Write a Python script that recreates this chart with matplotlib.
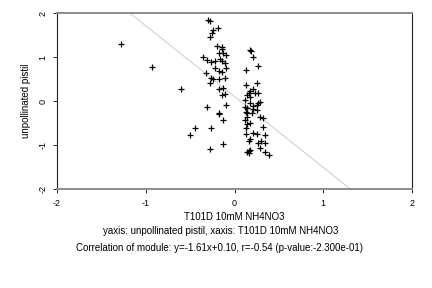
import matplotlib
matplotlib.use("Agg")
import matplotlib.pyplot as plt
import numpy as np

plt.rcParams["font.family"] = ["Liberation Sans", "DejaVu Sans"]

# points (data units)
x_left = [-0.30, -0.28, -0.19, -0.24, -0.25, -0.28, -1.28, -0.20, -0.14, -0.14,
          -0.17, -0.13, -0.10, -0.36, -0.31, -0.27, -0.22, -0.16, -0.14, -0.11,
          -0.93, -0.10, -0.22, -0.18, -0.14, -0.32, -0.27, -0.24, -0.17, -0.11,
          -0.28, -0.18, -0.13, -0.60, -0.14, -0.11, -0.31, -0.10, -0.17, -0.18,
          -0.13, -0.44, -0.26, -0.50, -0.13, -0.28]
y_left = [1.84, 1.82, 1.67, 1.61, 1.55, 1.46, 1.30, 1.26, 1.22, 1.18,
          1.10, 1.08, 1.05, 1.01, 0.93, 0.89, 0.91, 0.95, 0.91, 0.87,
          0.78, 0.74, 0.74, 0.69, 0.65, 0.63, 0.52, 0.50, 0.50, 0.52,
          0.40, 0.27, 0.29, 0.27, 0.14, 0.17, -0.14, -0.09, -0.27, -0.30,
          -0.43, -0.62, -0.62, -0.78, -0.98, -1.08]
x_right = [0.17, 0.19, 0.21, 0.26, 0.13, 0.25, 0.13, 0.21, 0.17, 0.23,
           0.16, 0.14, 0.26, 0.18, 0.12, 0.17, 0.29, 0.27, 0.25, 0.21,
           0.12, 0.14, 0.21, 0.25, 0.13, 0.14, 0.20, 0.14, 0.29, 0.32,
           0.12, 0.17, 0.14, 0.32, 0.13, 0.21, 0.25, 0.13, 0.34, 0.17,
           0.16, 0.30, 0.27, 0.34, 0.29, 0.16, 0.17, 0.14, 0.16, 0.34, 0.39]
y_right = [1.16, 1.14, 1.01, 0.80, 0.70, 0.42, 0.36, 0.27, 0.23, 0.18,
           0.18, 0.14, 0.18, 0.10, 0.02, -0.05, -0.02, -0.05, -0.09, -0.11,
           -0.13, -0.17, -0.19, -0.20, -0.24, -0.28, -0.28, -0.36, -0.36, -0.39,
           -0.43, -0.49, -0.52, -0.60, -0.62, -0.73, -0.75, -0.76, -0.77, -0.87,
           -0.90, -0.92, -0.96, -0.96, -1.07, -1.13, -1.11, -1.17, -1.19, -1.15, -1.23]

slope = -1.61
intercept = 0.10
ticks = [-2, -1, 0, 1, 2]
x_name = "T101D 10mM NH4NO3"
y_name = "unpollinated pistil"

fig = plt.figure(figsize=(4.32, 2.88), dpi=100)
ax = fig.add_axes([57 / 432, 1 - 189 / 288, 355 / 432, 176 / 288])

xs = np.array([-2.0, 2.0])
ax.plot(xs, slope * xs + intercept, color="#d0d0d0", lw=0.8, zorder=1)
ax.scatter(x_left + x_right, y_left + y_right, marker="+", s=13,
           color="black", linewidths=0.9, zorder=2)

ax.set_xlim(-2, 2)
ax.set_ylim(-2, 2)
ax.set_xticks(ticks)
ax.set_yticks(ticks)
ax.set_xticklabels([str(t) for t in ticks], fontsize=6.5)
ax.set_yticklabels([str(t) for t in ticks], fontsize=6.5, rotation=90, va="center")
ax.tick_params(length=3, width=0.6, pad=4)

for side in ("top", "bottom"):
    ax.spines[side].set_color("#8c8c8c")
    ax.spines[side].set_linewidth(1.4)
for side in ("left", "right"):
    ax.spines[side].set_color("#202020")
    ax.spines[side].set_linewidth(0.8)

ax.set_xlabel(x_name, fontsize=7, labelpad=3)
ax.set_ylabel(y_name, fontsize=7, labelpad=5)

fig.text(0.512, 1 - 231 / 288, f"yaxis: {y_name}, xaxis: {x_name}",
         ha="center", va="center", fontsize=7)
fig.text(0.508, 1 - 248 / 288,
         "Correlation of module: y=-1.61x+0.10, r=-0.54 (p-value:-2.300e-01)",
         ha="center", va="center", fontsize=7)

fig.savefig("out.png", dpi=100)
